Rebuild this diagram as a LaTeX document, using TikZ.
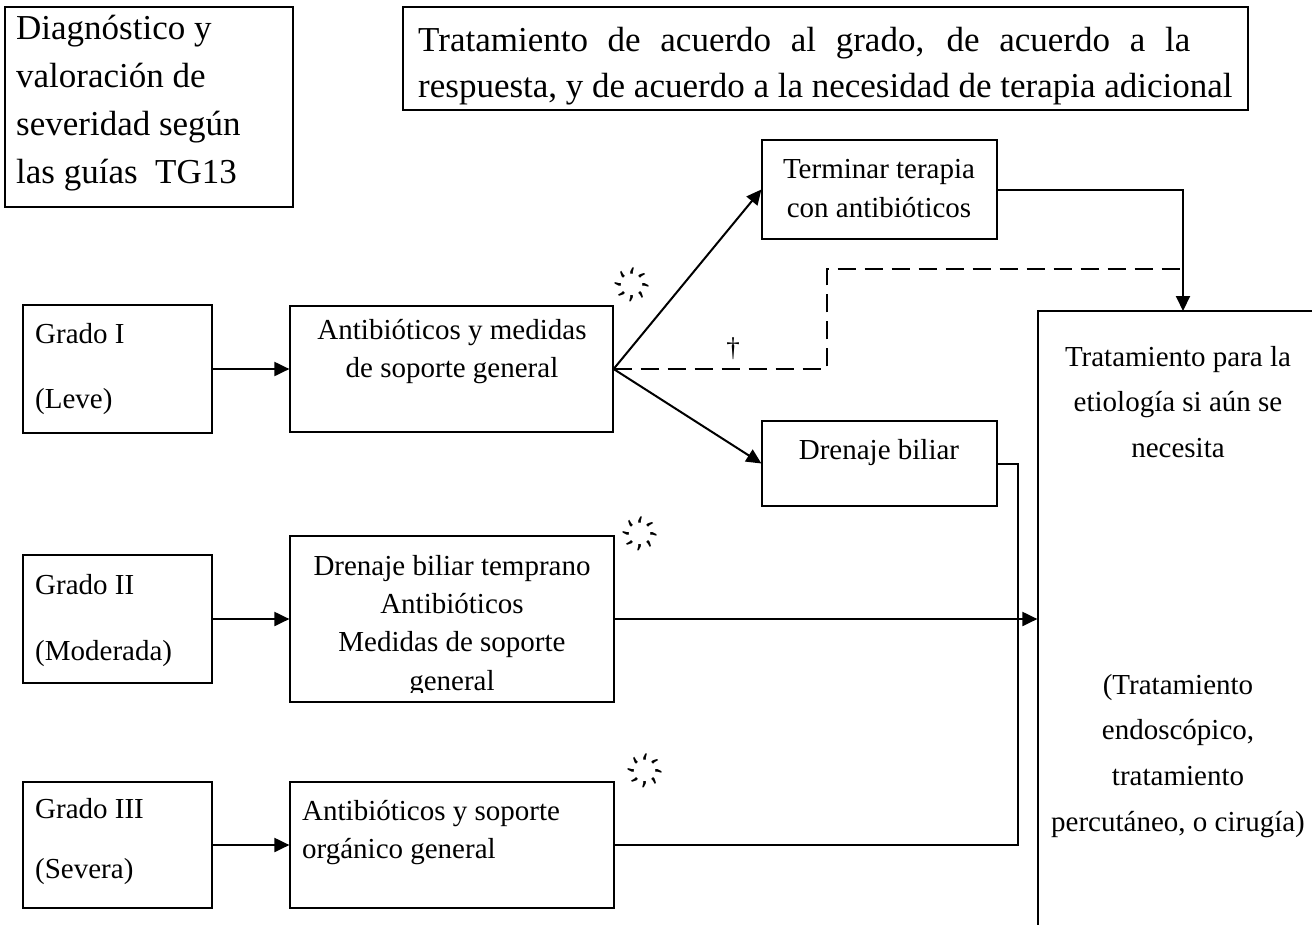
\documentclass[tikz,border=0pt]{standalone}
\usepackage{fontspec}
\setmainfont{Liberation Serif}
\newfontfamily\symfont{DejaVu Sans}
\usetikzlibrary{arrows.meta}

\tikzset{
  box/.style={draw,line width=1.2pt,inner sep=0pt},
  flow/.style={line width=2pt,-{Triangle[length=15pt,width=14pt]}},
  link/.style={line width=2pt},
  txt/.style={inner sep=0pt,font=\fontsize{29}{35}\selectfont},
  bigtxt/.style={inner sep=0pt,font=\fontsize{35}{42}\selectfont},
  burst/.style={inner sep=0pt,font=\symfont\fontsize{26}{26}\selectfont}
}

\begin{document}
\begin{tikzpicture}[x=1pt,y=-1pt]
  \path[use as bounding box,clip] (0,0) rectangle (1312,924);
  % Header boxes
  \node[box,minimum width=288,minimum height=200] (diag) at (149,107) {};
  \foreach \t [count=\i] in {Diagnóstico y, valoración de, severidad según, las guías\ \ TG13}
    \node[bigtxt,anchor=base west] (diag\i) at (16,{39+48.3*(\i-1)}) {\t};
  \node[box,minimum width=845,minimum height=103] (top) at (825.5,58.5) {};
  \node[bigtxt,anchor=base west] (top1) at (418,51)
    {\makebox[772pt][s]{Tratamiento de acuerdo al grado, de acuerdo a la}};
  \node[bigtxt,anchor=base west] (top2) at (418,97)
    {respuesta, y de acuerdo a la necesidad de terapia adicional};
  % Grades
  \node[box,minimum width=189,minimum height=128] (g1) at (117.5,369) {};
  \node[txt,anchor=base west] (g1a) at (35,343) {Grado I};
  \node[txt,anchor=base west] (g1b) at (35,408) {(Leve)};
  \node[box,minimum width=189,minimum height=128] (g2) at (117.5,619) {};
  \node[txt,anchor=base west] (g2a) at (35,594) {Grado II};
  \node[txt,anchor=base west] (g2b) at (35,660) {(Moderada)};
  \node[box,minimum width=189,minimum height=126] (g3) at (117.5,845) {};
  \node[txt,anchor=base west] (g3a) at (35,818) {Grado III};
  \node[txt,anchor=base west] (g3b) at (35,878) {(Severa)};
  % First treatment
  \node[box,minimum width=323,minimum height=126] (ab1) at (451.5,369) {};
  \node[txt,anchor=base] (ab1a) at (452,339) {Antibióticos y medidas};
  \node[txt,anchor=base] (ab1b) at (452,377) {de soporte general};
  \node[box,minimum width=324,minimum height=166] (ab2) at (452,619) {};
  \begin{scope}
    \clip (290,537) rectangle (614,692);
    \foreach \t [count=\i] in {Drenaje biliar temprano, Antibióticos, Medidas de soporte, general}
      \node[txt,anchor=base] (ab2\i) at (452,{575+38.4*(\i-1)}) {\t};
  \end{scope}
  \node[box,minimum width=324,minimum height=126] (ab3) at (452,845) {};
  \node[txt,anchor=base west] (ab3a) at (302,820) {Antibióticos y soporte};
  \node[txt,anchor=base west] (ab3b) at (302,858) {orgánico general};
  % Response
  \node[box,minimum width=235,minimum height=99] (term) at (879.5,189.5) {};
  \node[txt,anchor=base] (terma) at (879,178) {Terminar terapia};
  \node[txt,anchor=base] (termb) at (879,217) {con antibióticos};
  \node[box,minimum width=235,minimum height=85] (db) at (879.5,463.5) {};
  \node[txt,anchor=base] (dba) at (879,459) {Drenaje biliar};
  % Etiology
  \node[box,minimum width=400,minimum height=700] (big) at (1238,661) {};
  \foreach \t [count=\i] in {Tratamiento para la, etiología si aún se, necesita}
    \node[txt,anchor=base] (bigu\i) at (1178,{366+45.5*(\i-1)}) {\t};
  \foreach \t [count=\i] in {{(Tratamiento}, {endoscópico,}, tratamiento, {percutáneo, o cirugía)}}
    \node[txt,anchor=base] (bigl\i) at (1178,{694+45.7*(\i-1)}) {\t};
  % Marks
  \node[burst] (b1) at (645,285) {҉};
  \node[burst] (b2) at (653,534) {҉};
  \node[burst] (b3) at (658,771) {҉};
  \node[inner sep=0pt,font=\fontsize{27}{27}\selectfont] (dag) at (733,349) {†};
  % Connectors
  \coordinate (dsh) at (827,269);
  \coordinate (bigin) at (1183,311);
  \coordinate (jn) at (1018,619);
  \draw[flow] (g1.east) -- (ab1.west);
  \draw[flow] (g2.east) -- (ab2.west);
  \draw[flow] (g3.east) -- (ab3.west);
  \draw[flow] (ab1.east) -- (term.west);
  \draw[flow] (ab1.east) -- (db.west);
  \draw[link,dash pattern=on 18pt off 9pt] (ab1.east) -| (dsh) -- (dsh -| bigin);
  \draw[flow] (term.east) -| (bigin);
  \draw[link] (db.east) -| (jn);
  \draw[link] (ab3.east) -| (jn);
  \draw[flow] (ab2.east) -- (ab2.east -| big.west);
\end{tikzpicture}
\end{document}
